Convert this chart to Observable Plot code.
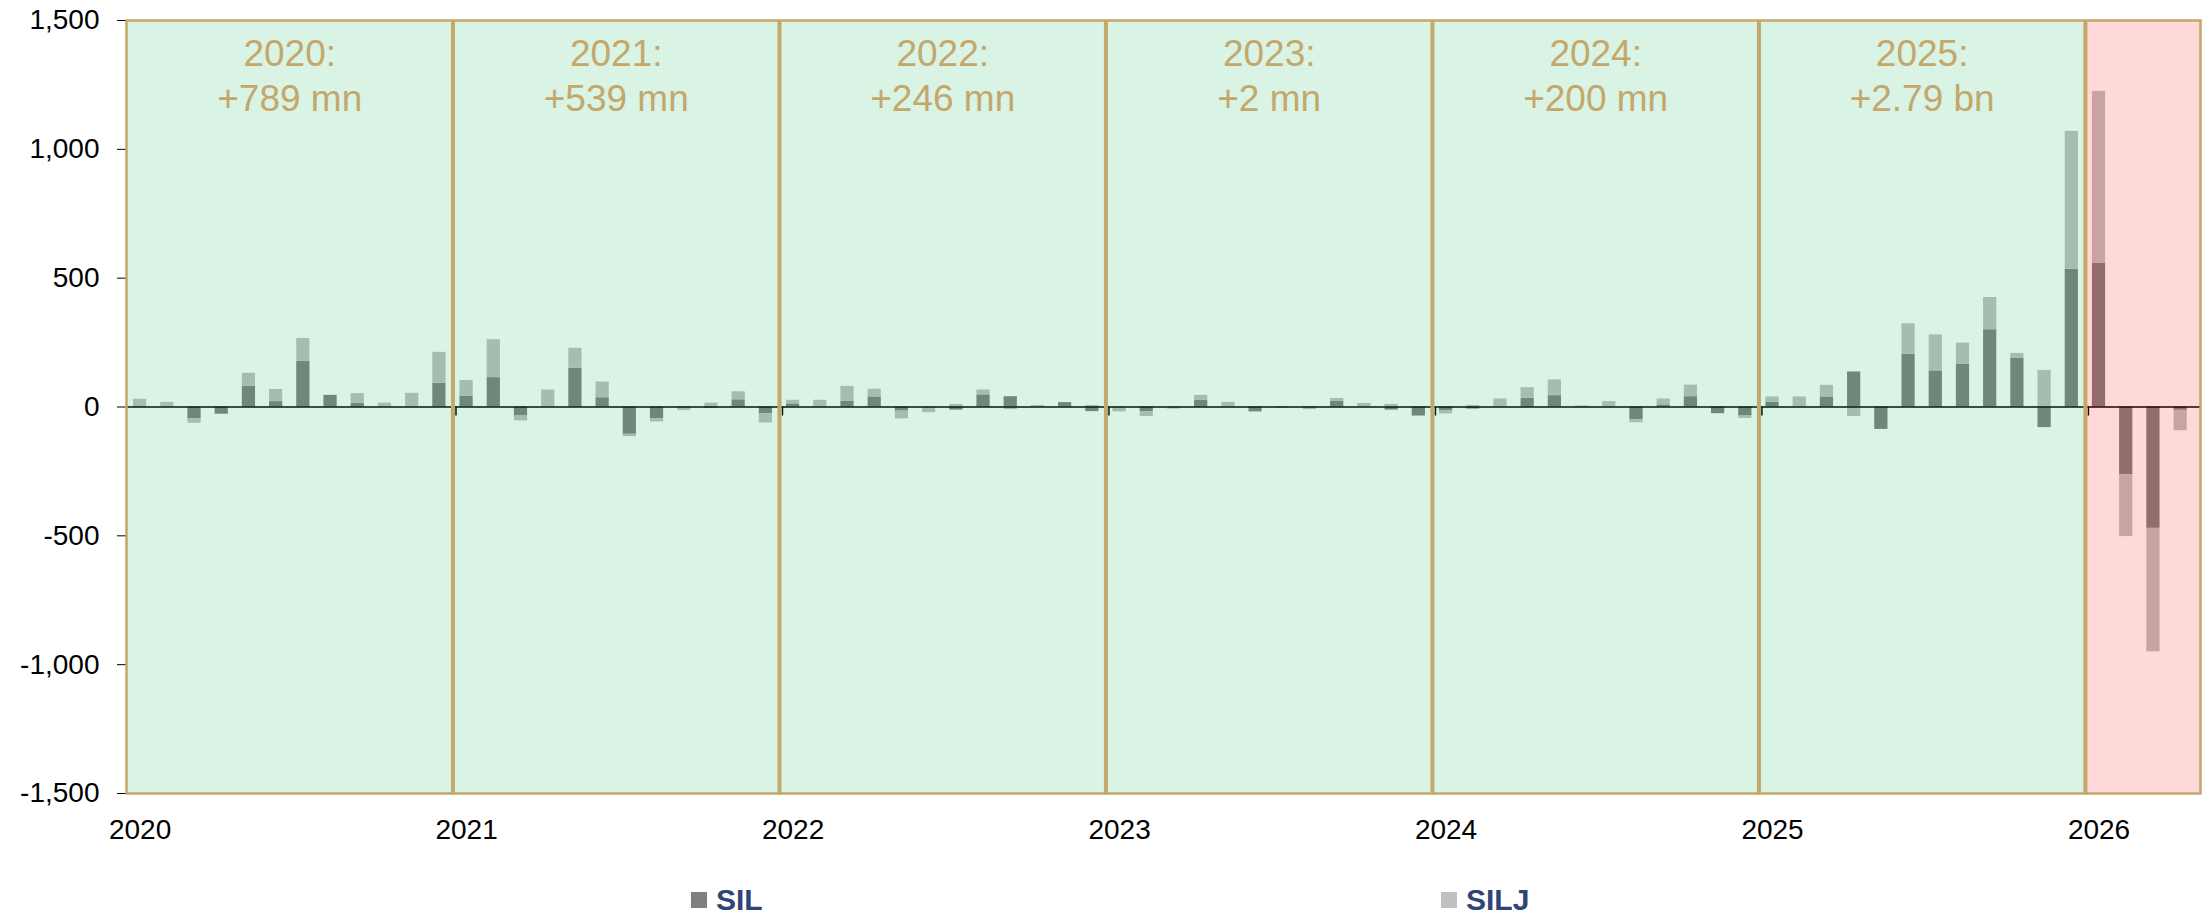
<!DOCTYPE html>
<html>
<head>
<meta charset="utf-8">
<script src="https://cdn.jsdelivr.net/npm/d3@7"></script>
<script src="https://cdn.jsdelivr.net/npm/@observablehq/plot@0.6"></script>
<style>
  body { margin: 0; background: #fff; font-family: "Liberation Sans", Arial, sans-serif; }
  #chart { position: relative; width: 2208px; height: 916px; }
  .legend-item { position: absolute; top: 883px; height: 34px; display: flex; align-items: center;
    font-weight: bold; font-size: 30px; line-height: 34px; color: #2f4577; }
  .sw { width: 16px; height: 16px; margin-right: 9px; }
</style>
</head>
<body>
<div id="chart"></div>
<script>
// ---- data ----
const years = ["2020", "2021", "2022", "2023", "2024", "2025", "2026"];
const yearTotals = ["+789 mn", "+539 mn", "+246 mn", "+2 mn", "+200 mn", "+2.79 bn"];
const series = ["SIL", "SILJ"];
const seriesColors = ["#808080", "#c0c0c0"];

// monthly flows (USD mn), Jan 2020 .. Apr 2026
const silFlows = [
  2, 0, -46, -28, 81, 21, 178, 45, 15, 0, 0, 92,          // 2020
  41, 114, -35, 0, 150, 36, -106, -46, -2, -5, 28, -26,   // 2021
  12, 0, 23, 39, -16, 0, -12, 47, 40, 0, 17, -18,         // 2022
  0, -18, 0, 27, 0, -19, -3, -5, 23, 0, -12, -35,         // 2023
  -14, -8, 0, 34, 44, 3, 0, -49, 8, 40, -26, -35,         // 2024
  18, 0, 39, 136, -87, 205, 140, 165, 300, 189, -80, 535, // 2025
  557, -263, -471, -13                                    // 2026
];
const siljFlows = [
  28, 18, -17, 0, 50, 47, 88, 0, 37, 15, 53, 120,         // 2020
  62, 147, -19, 66, 78, 61, -9, -12, -12, 15, 31, -36,    // 2021
  14, 26, 57, 30, -30, -22, 10, 19, -10, 6, 0, 6,         // 2022
  -19, -19, -8, 18, 18, 0, 0, -5, 10, 14, 10, 0,          // 2023
  -13, 6, 31, 41, 61, 0, 21, -12, 23, 45, 0, -9,          // 2024
  21, 39, 45, -37, 0, 118, 140, 83, 125, 19, 142, 535,    // 2025
  668, -240, -479, -79                                    // 2026
];
const monthsInLastYear = 4;

// ---- derived tables ----
const months = years.flatMap((y, k) =>
  d3.range(k < years.length - 1 ? 12 : monthsInLastYear).map(m => `${y}-${String(m + 1).padStart(2, "0")}`));

const rows = [];
months.forEach((m, i) => {
  let pos = 0, neg = 0;
  [silFlows[i], siljFlows[i]].forEach((v, s) => {
    let y1, y2;
    if (v >= 0) { y1 = pos; y2 = pos + v; pos = y2; }
    else { y1 = neg; y2 = neg + v; neg = y2; }
    rows.push({i, month: m, series: series[s], value: v, y1, y2});
  });
});

const xMax = months.length + 0.23;
const boundaries = years.slice(1).map(y => months.indexOf(`${y}-01`));
const periods = [
  {x1: 0, x2: months.indexOf("2026-01"), color: "#00B050"},
  {x1: months.indexOf("2026-01"), x2: xMax, color: "#FF0000"}
];
const annotations = yearTotals.map((t, k) => ({x: k * 12 + 6, text: `${years[k]}:\n${t}`}));
const tan = "#c4a76a";
const fmt = d => d3.format(",")(d).replace("\u2212", "-");

const plot = Plot.plot({
  width: 2208,
  height: 860,
  marginLeft: 126,
  marginRight: 8,
  marginTop: 20,
  marginBottom: 67,
  style: {fontFamily: "'Liberation Sans', Arial, sans-serif", fontSize: "28px", color: "#000", background: "transparent"},
  x: {
    type: "linear",
    domain: [0, xMax],
    ticks: years.map((y, k) => k * 12 + 0.5),
    tickFormat: d => years[Math.round((d - 0.5) / 12)],
    tickSize: 0,
    tickPadding: 26,
    label: null
  },
  y: {
    domain: [-1500, 1500],
    ticks: d3.range(-1500, 1501, 500),
    tickFormat: fmt,
    tickSize: 9,
    tickPadding: 18,
    label: null
  },
  marks: [
    Plot.rect(rows, {
      x1: "i", x2: d => d.i + 1, y1: "y1", y2: "y2",
      fill: d => seriesColors[series.indexOf(d.series)],
      insetLeft: 7, insetRight: 7
    }),
    Plot.ruleY([0], {stroke: "#000", strokeWidth: 1.5}),
    Plot.ruleX(boundaries, {x: d => d, y1: 0, y2: 0, insetBottom: -9, dx: 3, stroke: "#000", strokeWidth: 1.5}),
    Plot.rect(periods, {x1: "x1", x2: "x2", fill: "color", fillOpacity: 0.15}),
    Plot.ruleX(boundaries, {x: d => d, stroke: tan, strokeWidth: 4}),
    Plot.frame({stroke: tan, strokeWidth: 2.5}),
    Plot.text(annotations, {
      x: "x", y: 1500, text: "text", lineAnchor: "top", lineHeight: 1.216,
      fontSize: 37, fill: tan, dy: 14, textAnchor: "middle"
    })
  ]
});

const chart = document.getElementById("chart");
chart.appendChild(plot);

const legendX = [691, 1441];
series.forEach((s, k) => {
  const item = document.createElement("div");
  item.className = "legend-item";
  item.style.left = legendX[k] + "px";
  item.innerHTML = `<span class="sw" style="background:${seriesColors[k]}"></span><span>${s}</span>`;
  chart.appendChild(item);
});
</script>
</body>
</html>
